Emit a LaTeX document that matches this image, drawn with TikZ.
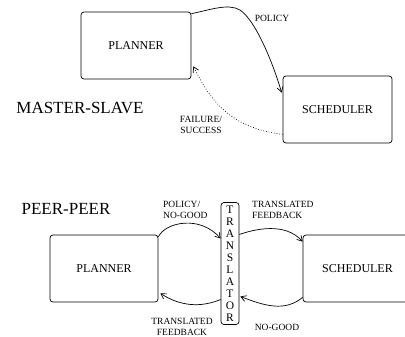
\documentclass[tikz,border=0pt]{standalone}
\usepackage{fontspec}
\setmainfont{Liberation Serif}
\usetikzlibrary{arrows.meta,calc}
\begin{document}
\begin{tikzpicture}[x=1pt,y=-1pt,
  box/.style={draw, rounded corners=3pt, line width=0.7pt, minimum width=109pt, minimum height=67pt, inner sep=0pt, font=\fontsize{12}{14}\selectfont},
  lbl/.style={font=\fontsize{9.5}{11}\selectfont, inner sep=0pt},
  ttl/.style={font=\fontsize{17}{20}\selectfont, inner sep=0pt},
  arr/.style={line width=0.7pt, -{Straight Barb[length=5pt,width=6pt]}}]
\useasboundingbox (0,0) rectangle (405,337);
\clip (0,0) rectangle (405,337);
% master-slave
\node[box, minimum width=110pt] (p1) at (136,45.5) {PLANNER};
\node[box] (s1) at (337.5,109.5) {SCHEDULER};
\node[ttl] (ms) at (80,108) {MASTER-SLAVE};
\node[lbl] (pol) at (272,18) {POLICY};
\node[lbl, align=center] (fs) at (201,125) {FAILURE/\\SUCCESS};
\draw[arr] ($(p1.north east)+(0,2)$) .. controls (210,10) and (228,3) .. (240,10)
  .. controls (255,20) and (272,60) .. ($(s1.north west)+(-1,17)$);
\draw[arr, dotted] ($(s1.south west)+(0,-9)$) .. controls (230,128) and (210,100) .. ($(p1.south east)+(2,-13)$);
% peer-peer
\node[ttl] (pp) at (66,209) {PEER-PEER};
\node[box, minimum width=108pt] (p2) at (104,268.5) {PLANNER};
\node[box] (s2) at (357.5,268.5) {SCHEDULER};
\node[draw, rounded corners=3pt, line width=0.7pt, minimum width=18pt, minimum height=122pt, inner sep=0pt, align=center, font=\fontsize{11.5}{12}\selectfont] (tr) at (230,263.5) {T\\R\\A\\N\\S\\L\\A\\T\\O\\R};
\node[lbl, align=left, anchor=west] (pn) at (163,209.5) {POLICY/\\NO-GOOD};
\node[lbl, align=left, anchor=west] (tf1) at (252,209.5) {TRANSLATED\\FEEDBACK};
\node[lbl, align=center] (tf2) at (182,327) {TRANSLATED\\FEEDBACK};
\node[lbl] (ng) at (277,327) {NO-GOOD};
\draw[arr] ($(p2.north east)+(0,2)$) .. controls (166,222) and (200,215) .. ($(tr.west)+(0,-25)$);
\draw[arr] ($(tr.east)+(0,-29)$) .. controls (255,229) and (285,222) .. ($(s2.north west)+(0,7)$);
\draw[arr] ($(s2.south west)+(0,-5)$) .. controls (285,312) and (265,306) .. ($(tr.east)+(1,33)$);
\draw[arr] ($(tr.west)+(0,36)$) .. controls (200,308) and (180,306) .. ($(p2.south east)+(2,-9)$);
\end{tikzpicture}
\end{document}
